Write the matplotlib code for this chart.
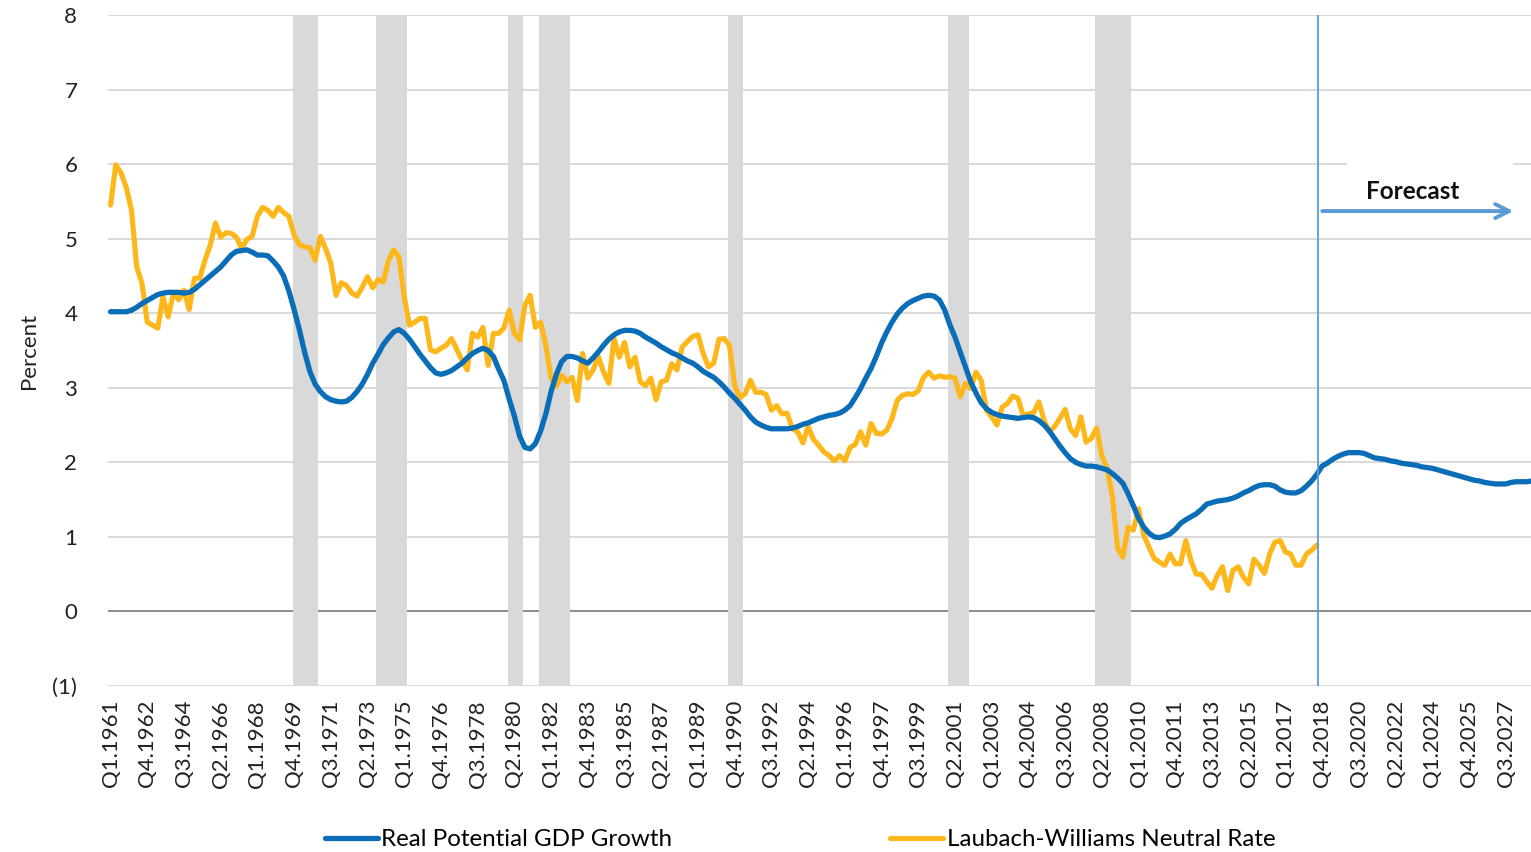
import matplotlib.pyplot as plt
from matplotlib.patches import Rectangle

plt.rcParams['font.family'] = ['Lato', 'DejaVu Sans']

# quarterly categories Q1.1961 .. Q4.2028
years = list(range(1961, 2029))
quarters = ['Q%d.%d' % (q, y) for y in years for q in range(1, 5)]

potential_gdp = [
    4.02, 4.02, 4.02, 4.02, 4.04, 4.08, 4.13, 4.17, 4.21, 4.25, 4.27, 4.28,
    4.28, 4.28, 4.27, 4.28, 4.32, 4.38, 4.44, 4.50, 4.56, 4.62, 4.70, 4.78,
    4.83, 4.84, 4.85, 4.82, 4.78, 4.78, 4.77, 4.70, 4.62, 4.50, 4.30, 4.05,
    3.78, 3.48, 3.22, 3.05, 2.95, 2.88, 2.84, 2.82, 2.81, 2.82, 2.87, 2.95,
    3.05, 3.18, 3.33, 3.45, 3.58, 3.67, 3.75, 3.78, 3.73, 3.65, 3.55, 3.45,
    3.36, 3.27, 3.20, 3.18, 3.20, 3.23, 3.28, 3.33, 3.40, 3.46, 3.50, 3.53,
    3.50, 3.42, 3.25, 3.10, 2.85, 2.62, 2.35, 2.20, 2.18, 2.25, 2.42, 2.65,
    2.95, 3.18, 3.35, 3.42, 3.42, 3.40, 3.36, 3.33, 3.40, 3.48, 3.57, 3.65,
    3.71, 3.75, 3.77, 3.77, 3.76, 3.73, 3.68, 3.64, 3.60, 3.55, 3.51, 3.47,
    3.44, 3.40, 3.36, 3.33, 3.28, 3.22, 3.18, 3.14, 3.08, 3.01, 2.93, 2.86,
    2.78, 2.70, 2.61, 2.54, 2.50, 2.47, 2.45, 2.45, 2.45, 2.45, 2.46, 2.48,
    2.51, 2.53, 2.56, 2.59, 2.61, 2.63, 2.64, 2.66, 2.70, 2.76, 2.87, 2.99,
    3.13, 3.26, 3.42, 3.60, 3.75, 3.88, 3.99, 4.07, 4.13, 4.17, 4.20, 4.23,
    4.24, 4.23, 4.18, 4.05, 3.85, 3.68, 3.48, 3.28, 3.08, 2.93, 2.80, 2.72,
    2.67, 2.64, 2.62, 2.61, 2.60, 2.59, 2.60, 2.61, 2.60, 2.56, 2.50, 2.42,
    2.32, 2.22, 2.13, 2.05, 2.00, 1.97, 1.95, 1.95, 1.94, 1.92, 1.90, 1.85,
    1.79, 1.72, 1.58, 1.42, 1.25, 1.13, 1.05, 1.00, 0.99, 1.01, 1.04, 1.10,
    1.18, 1.23, 1.27, 1.31, 1.37, 1.44, 1.46, 1.48, 1.49, 1.50, 1.52, 1.55,
    1.59, 1.62, 1.66, 1.69, 1.70, 1.70, 1.68, 1.63, 1.60, 1.59, 1.59, 1.62,
    1.68, 1.75, 1.84, 1.95, 1.99, 2.04, 2.08, 2.11, 2.13, 2.13, 2.13, 2.12,
    2.09, 2.06, 2.05, 2.04, 2.02, 2.01, 1.99, 1.98, 1.97, 1.96, 1.94, 1.93,
    1.92, 1.90, 1.88, 1.86, 1.84, 1.82, 1.80, 1.78, 1.76, 1.75, 1.73, 1.72,
    1.71, 1.71, 1.71, 1.73, 1.74, 1.74, 1.74, 1.75,
]

neutral_rate = [
    5.45, 5.99, 5.88, 5.69, 5.38, 4.62, 4.40, 3.88, 3.84, 3.80,
    4.22, 3.95, 4.27, 4.18, 4.31, 4.05, 4.47, 4.47, 4.71, 4.91,
    5.21, 5.02, 5.08, 5.07, 5.02, 4.87, 4.99, 5.03, 5.30, 5.42,
    5.38, 5.30, 5.42, 5.35, 5.30, 5.05, 4.92, 4.89, 4.88, 4.71,
    5.03, 4.87, 4.67, 4.24, 4.41, 4.37, 4.27, 4.23, 4.35, 4.49,
    4.34, 4.45, 4.42, 4.71, 4.85, 4.75, 4.22, 3.84, 3.88, 3.93,
    3.93, 3.51, 3.48, 3.53, 3.57, 3.66, 3.52, 3.37, 3.24, 3.73,
    3.68, 3.81, 3.30, 3.73, 3.73, 3.80, 4.04, 3.73, 3.64, 4.11,
    4.24, 3.81, 3.88, 3.57, 3.13, 3.02, 3.17, 3.08, 3.14, 2.83,
    3.46, 3.13, 3.24, 3.42, 3.21, 3.06, 3.66, 3.41, 3.61, 3.28,
    3.41, 3.08, 3.03, 3.13, 2.84, 3.08, 3.10, 3.32, 3.24, 3.55,
    3.62, 3.69, 3.71, 3.46, 3.28, 3.33, 3.65, 3.66, 3.57, 3.03,
    2.87, 2.92, 3.10, 2.94, 2.94, 2.91, 2.70, 2.76, 2.65, 2.66,
    2.45, 2.41, 2.26, 2.48, 2.31, 2.23, 2.14, 2.09, 2.02, 2.09,
    2.02, 2.20, 2.24, 2.41, 2.23, 2.52, 2.39, 2.38, 2.43, 2.59,
    2.83, 2.90, 2.92, 2.91, 2.96, 3.14, 3.21, 3.13, 3.16, 3.14,
    3.15, 3.13, 2.88, 3.06, 2.99, 3.21, 3.10, 2.70, 2.61, 2.50,
    2.74, 2.79, 2.89, 2.86, 2.63, 2.65, 2.67, 2.81, 2.56, 2.41,
    2.48, 2.59, 2.71, 2.45, 2.36, 2.61, 2.27, 2.32, 2.46, 2.09,
    1.92, 1.55, 0.85, 0.73, 1.13, 1.09, 1.38, 1.02, 0.86, 0.71,
    0.66, 0.62, 0.77, 0.64, 0.64, 0.95, 0.68, 0.50, 0.50, 0.40,
    0.31, 0.48, 0.60, 0.28, 0.55, 0.60, 0.46, 0.37, 0.70, 0.62,
    0.51, 0.77, 0.93, 0.95, 0.80, 0.77, 0.62, 0.62, 0.77, 0.82,
    0.89,
]

# recession shading (start, end quarter) as shown on the chart
recessions = [('Q4.1969', 'Q4.1970'), ('Q4.1973', 'Q1.1975'),
              ('Q1.1980', 'Q3.1980'), ('Q3.1981', 'Q4.1982'),
              ('Q3.1990', 'Q1.1991'), ('Q1.2001', 'Q4.2001'),
              ('Q1.2008', 'Q3.2009')]

ytick_vals = [-1, 0, 1, 2, 3, 4, 5, 6, 7, 8]
ytick_labels = ['(1)', '0', '1', '2', '3', '4', '5', '6', '7', '8']

fig = plt.figure(figsize=(15.31, 8.52), dpi=100)
ax = fig.add_axes([107.9 / 1531, 166 / 852, 272 * 5.245 / 1531, 671 / 852])

x_gdp = list(range(len(potential_gdp)))
x_lw = list(range(len(neutral_rate)))

for start, end in recessions:
    ax.axvspan(quarters.index(start) - 0.3, quarters.index(end) + 0.6,
               color='#D9D9D9', lw=0, zorder=1)

ax.yaxis.grid(True, color='#D9D9D9', lw=1.4)
ax.set_axisbelow(True)
ax.axhline(0, color='#8C8C8C', lw=1.4, zorder=0.8)

ax.plot(x_gdp, potential_gdp, color='#0A6DB7', lw=3.8, zorder=4,
        solid_capstyle='round', solid_joinstyle='round',
        label='Real Potential GDP Growth')
ax.plot(x_lw, neutral_rate, color='#FDB71A', lw=3.7, zorder=3,
        solid_capstyle='round', solid_joinstyle='round',
        label='Laubach-Williams Neutral Rate')

# forecast marker
ax.axvline(230.3, color='#5B9BD5', lw=1.3, zorder=5)
ax.add_patch(Rectangle((235.7, 5.45), 31.7, 0.65, facecolor='white',
                       edgecolor='none', zorder=2))
ax.annotate('', xy=(268.0, 5.37), xytext=(230.5, 5.37),
            arrowprops=dict(arrowstyle='->,head_length=1.0,head_width=0.5',
                            color='#5B9BD5', lw=2.8), zorder=6)
ax.text(248.3, 5.63, 'Forecast', ha='center', va='center', fontsize=17.5,
        fontweight='bold', color='#111111', zorder=6)

ax.set_xlim(-0.5, len(quarters) - 0.5)
ax.set_ylim(-1, 8)
ax.set_yticks(ytick_vals)
ax.set_yticklabels(ytick_labels)
ax.set_xticks(list(range(0, len(quarters), 7)))
ax.set_xticklabels(quarters[::7], rotation=90)
ax.tick_params(axis='both', length=0, labelsize=16, colors='#222222')
ax.tick_params(axis='y', pad=22)
ax.tick_params(axis='x', pad=10)
for s in ax.spines.values():
    s.set_visible(False)

ax.set_ylabel('Percent', fontsize=16, color='#222222', labelpad=10)

fig.legend(loc='center', bbox_to_anchor=(800 / 1531, 1 - 840 / 852), ncol=2,
           frameon=False, fontsize=17.4, handlelength=2.2, handletextpad=0.15,
           columnspacing=9.0)

plt.savefig('out.png', dpi=100)
